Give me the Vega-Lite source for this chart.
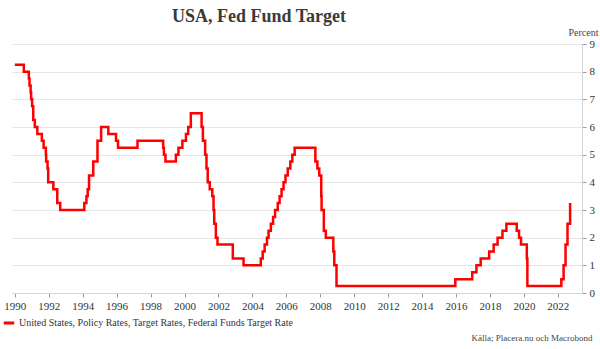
{
  "$schema": "https://vega.github.io/schema/vega-lite/v6.json",
  "autosize": {"type": "none"},
  "padding": {"left": 12, "top": 44, "right": 18, "bottom": 56},
  "width": 570,
  "height": 249,
  "background": "white",
  "title": {
    "text": "USA, Fed Fund Target",
    "font": "Liberation Serif",
    "fontSize": 18,
    "fontWeight": "bold",
    "color": "#3a3a3a",
    "anchor": "middle",
    "frame": "bounds",
    "offset": 0,
    "dy": -1,
    "dx": -41
  },
  "config": {
    "view": {"stroke": null},
    "font": "Liberation Serif"
  },
  "data": {
    "values": [
      {"date": "1990-01-01", "rate": 8.25},
      {"date": "1990-07-13", "rate": 8.0},
      {"date": "1990-10-29", "rate": 7.75},
      {"date": "1990-11-13", "rate": 7.5},
      {"date": "1990-12-07", "rate": 7.25},
      {"date": "1990-12-18", "rate": 7.0},
      {"date": "1991-01-08", "rate": 6.75},
      {"date": "1991-02-01", "rate": 6.25},
      {"date": "1991-03-08", "rate": 6.0},
      {"date": "1991-04-30", "rate": 5.75},
      {"date": "1991-08-06", "rate": 5.5},
      {"date": "1991-09-13", "rate": 5.25},
      {"date": "1991-10-31", "rate": 5.0},
      {"date": "1991-11-06", "rate": 4.75},
      {"date": "1991-12-06", "rate": 4.5},
      {"date": "1991-12-20", "rate": 4.0},
      {"date": "1992-04-09", "rate": 3.75},
      {"date": "1992-07-02", "rate": 3.25},
      {"date": "1992-09-04", "rate": 3.0},
      {"date": "1994-02-04", "rate": 3.25},
      {"date": "1994-03-22", "rate": 3.5},
      {"date": "1994-04-18", "rate": 3.75},
      {"date": "1994-05-17", "rate": 4.25},
      {"date": "1994-08-16", "rate": 4.75},
      {"date": "1994-11-15", "rate": 5.5},
      {"date": "1995-02-01", "rate": 6.0},
      {"date": "1995-07-06", "rate": 5.75},
      {"date": "1995-12-19", "rate": 5.5},
      {"date": "1996-01-31", "rate": 5.25},
      {"date": "1997-03-25", "rate": 5.5},
      {"date": "1998-09-29", "rate": 5.25},
      {"date": "1998-10-15", "rate": 5.0},
      {"date": "1998-11-17", "rate": 4.75},
      {"date": "1999-06-30", "rate": 5.0},
      {"date": "1999-08-24", "rate": 5.25},
      {"date": "1999-11-16", "rate": 5.5},
      {"date": "2000-02-02", "rate": 5.75},
      {"date": "2000-03-21", "rate": 6.0},
      {"date": "2000-05-16", "rate": 6.5},
      {"date": "2001-01-03", "rate": 6.0},
      {"date": "2001-01-31", "rate": 5.5},
      {"date": "2001-03-20", "rate": 5.0},
      {"date": "2001-04-18", "rate": 4.5},
      {"date": "2001-05-15", "rate": 4.0},
      {"date": "2001-06-27", "rate": 3.75},
      {"date": "2001-08-21", "rate": 3.5},
      {"date": "2001-09-17", "rate": 3.0},
      {"date": "2001-10-02", "rate": 2.5},
      {"date": "2001-11-06", "rate": 2.0},
      {"date": "2001-12-11", "rate": 1.75},
      {"date": "2002-11-06", "rate": 1.25},
      {"date": "2003-06-25", "rate": 1.0},
      {"date": "2004-06-30", "rate": 1.25},
      {"date": "2004-08-10", "rate": 1.5},
      {"date": "2004-09-21", "rate": 1.75},
      {"date": "2004-11-10", "rate": 2.0},
      {"date": "2004-12-14", "rate": 2.25},
      {"date": "2005-02-02", "rate": 2.5},
      {"date": "2005-03-22", "rate": 2.75},
      {"date": "2005-05-03", "rate": 3.0},
      {"date": "2005-06-30", "rate": 3.25},
      {"date": "2005-08-09", "rate": 3.5},
      {"date": "2005-09-20", "rate": 3.75},
      {"date": "2005-11-01", "rate": 4.0},
      {"date": "2005-12-13", "rate": 4.25},
      {"date": "2006-01-31", "rate": 4.5},
      {"date": "2006-03-28", "rate": 4.75},
      {"date": "2006-05-10", "rate": 5.0},
      {"date": "2006-06-29", "rate": 5.25},
      {"date": "2007-09-18", "rate": 4.75},
      {"date": "2007-10-31", "rate": 4.5},
      {"date": "2007-12-11", "rate": 4.25},
      {"date": "2008-01-22", "rate": 3.5},
      {"date": "2008-01-30", "rate": 3.0},
      {"date": "2008-03-18", "rate": 2.25},
      {"date": "2008-04-30", "rate": 2.0},
      {"date": "2008-10-08", "rate": 1.5},
      {"date": "2008-10-29", "rate": 1.0},
      {"date": "2008-12-16", "rate": 0.25},
      {"date": "2015-12-17", "rate": 0.5},
      {"date": "2016-12-15", "rate": 0.75},
      {"date": "2017-03-16", "rate": 1.0},
      {"date": "2017-06-15", "rate": 1.25},
      {"date": "2017-12-14", "rate": 1.5},
      {"date": "2018-03-22", "rate": 1.75},
      {"date": "2018-06-14", "rate": 2.0},
      {"date": "2018-09-27", "rate": 2.25},
      {"date": "2018-12-20", "rate": 2.5},
      {"date": "2019-08-01", "rate": 2.25},
      {"date": "2019-09-19", "rate": 2.0},
      {"date": "2019-10-31", "rate": 1.75},
      {"date": "2020-03-04", "rate": 1.25},
      {"date": "2020-03-16", "rate": 0.25},
      {"date": "2022-03-17", "rate": 0.5},
      {"date": "2022-05-05", "rate": 1.0},
      {"date": "2022-06-16", "rate": 1.75},
      {"date": "2022-07-28", "rate": 2.5},
      {"date": "2022-09-22", "rate": 3.25}
    ]
  },
  "mark": {"type": "line", "interpolate": "step-after", "strokeWidth": 2.5},
  "encoding": {
    "x": {
      "field": "date",
      "type": "temporal",
      "scale": {"domain": ["1989-11-01", "2023-06-05"]},
      "axis": {
        "values": ["1990-01-01", "1992-01-01", "1994-01-01", "1996-01-01", "1998-01-01", "2000-01-01", "2002-01-01", "2004-01-01", "2006-01-01", "2008-01-01", "2010-01-01", "2012-01-01", "2014-01-01", "2016-01-01", "2018-01-01", "2020-01-01", "2022-01-01"],
        "format": "%Y",
        "grid": false,
        "domainColor": "#d4d4d4",
        "tickColor": "#9a9a9a",
        "tickSize": 4,
        "labelFont": "Liberation Serif",
        "labelFontSize": 11,
        "labelColor": "#333333",
        "labelPadding": 3,
        "title": "Källa; Placera.nu och Macrobond",
        "titleFont": "Liberation Serif",
        "titleFontSize": 9,
        "titleFontWeight": "normal",
        "titleColor": "#444444",
        "titleAnchor": "end",
        "titleAlign": "right",
        "titleBaseline": "alphabetic",
        "titleX": 580,
        "titleY": 47
      }
    },
    "y": {
      "field": "rate",
      "type": "quantitative",
      "scale": {"domain": [0, 9]},
      "axis": {
        "orient": "right",
        "values": [0, 1, 2, 3, 4, 5, 6, 7, 8, 9],
        "gridColor": "#e6e6e6",
        "domainColor": "#d4d4d4",
        "tickColor": "#9a9a9a",
        "tickSize": 4,
        "labelFont": "Liberation Serif",
        "labelFontSize": 11,
        "labelColor": "#333333",
        "labelPadding": 3,
        "title": "Percent",
        "titleFont": "Liberation Serif",
        "titleFontSize": 10,
        "titleFontWeight": "normal",
        "titleColor": "#444444",
        "titleAngle": 0,
        "titleAlign": "right",
        "titleBaseline": "alphabetic",
        "titleX": 16,
        "titleY": -9
      }
    },
    "color": {
      "datum": "United States, Policy Rates, Target Rates, Federal Funds Target Rate",
      "type": "nominal",
      "scale": {"range": ["#ff0000"]},
      "legend": {
        "orient": "none",
        "legendX": -10,
        "legendY": 272,
        "title": null,
        "symbolType": "stroke",
        "symbolStrokeWidth": 3,
        "symbolSize": 110,
        "labelFont": "Liberation Serif",
        "labelFontSize": 10,
        "labelColor": "#333333",
        "labelOffset": 3,
        "labelLimit": 500
      }
    }
  }
}
